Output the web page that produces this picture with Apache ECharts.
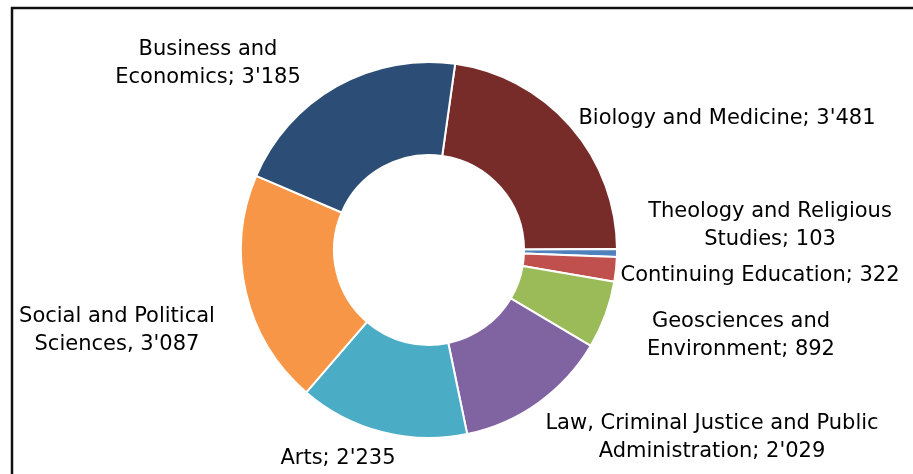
<!DOCTYPE html>
<html>
<head>
<meta charset="utf-8">
<style>
  html, body { margin: 0; padding: 0; background: #fff; }
  #chart { width: 913px; height: 474px; }
</style>
<script src="https://cdn.jsdelivr.net/npm/echarts@6/dist/echarts.min.js"></script>
</head>
<body>
<div id="chart"></div>
<script>
// Enrolment by faculty, clockwise from the top
const categories = [
  'Biology and Medicine',
  'Theology and Religious Studies',
  'Continuing Education',
  'Geosciences and Environment',
  'Law, Criminal Justice and Public Administration',
  'Arts',
  'Social and Political Sciences',
  'Business and Economics'
];
const values = [3481, 103, 322, 892, 2029, 2235, 3087, 3185];

// Label text preceding the value (line breaks as printed)
const labelHeads = [
  'Biology and Medicine; ',
  'Theology and Religious\nStudies; ',
  'Continuing Education; ',
  'Geosciences and\nEnvironment; ',
  'Law, Criminal Justice and Public\nAdministration; ',
  'Arts; ',
  'Social and Political\nSciences, ',
  'Business and\nEconomics; '
];

const colors = ['#772C2A', '#4F81BD', '#C0504D', '#9BBB59', '#8064A2', '#4BACC6', '#F79646', '#2C4D75'];

// Label anchor points (text centres)
const labelAnchors = [
  [727, 119], [770, 226], [760, 276], [741, 336],
  [712, 438], [338, 459], [117, 331], [208, 64]
];

function fmtThousands(v) {
  return String(v).replace(/\B(?=(\d{3})+(?!\d))/g, "'");
}

const chart = echarts.init(document.getElementById('chart'), null, { renderer: 'canvas' });

chart.setOption({
  animation: false,
  backgroundColor: '#ffffff',
  graphic: [{
    type: 'rect',
    shape: { x: 12, y: 8, width: 1000, height: 600 },
    style: { fill: 'none', stroke: '#111', lineWidth: 2.5 },
    silent: true
  }],
  series: [{
    type: 'pie',
    center: [429, 250],
    radius: [95, 188],
    startAngle: 82,
    clockwise: true,
    avoidLabelOverlap: false,
    itemStyle: { borderColor: '#ffffff', borderWidth: 2 },
    label: {
      show: true,
      position: 'outside',
      color: '#000',
      fontFamily: 'DejaVu Sans, Verdana, sans-serif',
      fontSize: 21,
      lineHeight: 28,
      align: 'center',
      formatter: p => labelHeads[p.dataIndex] + fmtThousands(p.value)
    },
    labelLine: { show: false },
    labelLayout: p => ({
      x: labelAnchors[p.dataIndex][0],
      y: labelAnchors[p.dataIndex][1],
      align: 'center',
      verticalAlign: 'middle'
    }),
    emphasis: { disabled: true },
    data: categories.map((c, i) => ({
      name: c,
      value: values[i],
      itemStyle: { color: colors[i] }
    }))
  }]
});
</script>
</body>
</html>
